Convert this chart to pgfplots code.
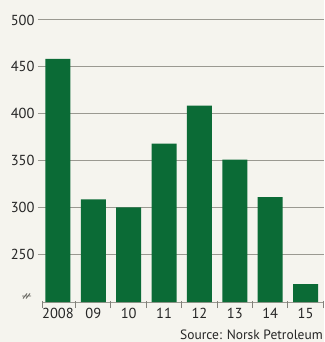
\documentclass[border=0pt]{standalone}
\usepackage{pgfplots}
\pgfplotsset{compat=1.18}
\usepackage{fontspec}
\setmainfont{PT Sans}
\definecolor{bg}{HTML}{F5F4EE}
\definecolor{bargreen}{HTML}{0B6B36}
\definecolor{gridc}{HTML}{9A9991}
\begin{document}
\begin{tikzpicture}[x=1bp,y=1bp]
\fill[bg] (0,0) rectangle (324,342);
\begin{axis}[
  at={(42bp,40bp)}, anchor=south west,
  scale only axis, width=282bp, height=282bp,
  xmin=-0.45, xmax=7.52, ymin=199, ymax=500,
  axis lines*=left,
  y axis line style={draw=none},
  x axis line style={draw=gridc, line width=0.9pt, -},
  ytick={250,300,350,400,450,500},
  ymajorgrids, grid style={draw=gridc, line width=1pt},
  major tick length=0pt,
  xtick={0,1,2,3,4,5,6,7},
  xticklabels={2008,09,10,11,12,13,14,15},
  /pgf/number format/assume math mode=true,
  ticklabel style={font=\fontsize{14.5bp}{16bp}\selectfont, text=black!85},
  yticklabel style={xshift=-4bp},
  xticklabel style={yshift=-3bp},
  clip=false,
]
\addplot[ybar, bar width=25bp, fill=bargreen, draw=none, bar shift=0pt]
  coordinates {(0,458.5) (1,308.5) (2,300) (3,368) (4,408.5) (5,351) (6,311) (7,218)};
\pgfplotsinvokeforeach{-0.45,0.5,1.5,2.5,3.5,4.5,5.5,6.5,7.5}{
  \draw[gridc!85!black, line width=1pt] ([yshift=-6bp]axis cs:#1,199) -- ([yshift=1bp]axis cs:#1,199);
}
\pgfplotsinvokeforeach{250,300,350,400,450,500}{
  \draw[gridc, line width=1pt] ([xshift=-4bp]axis cs:-0.45,#1) -- (axis cs:-0.45,#1);
}
\end{axis}
\draw[gridc!70!black, line width=0.9pt] (23,43.5) -- (27,48.5) (26,43.5) -- (30,48.5) (22,46) -- (31,46);
\node[anchor=base east, inner sep=0pt, font=\fontsize{13.5bp}{15bp}\selectfont, text=black!85] at (323,3) {Source: Norsk Petroleum};
\end{tikzpicture}
\end{document}
